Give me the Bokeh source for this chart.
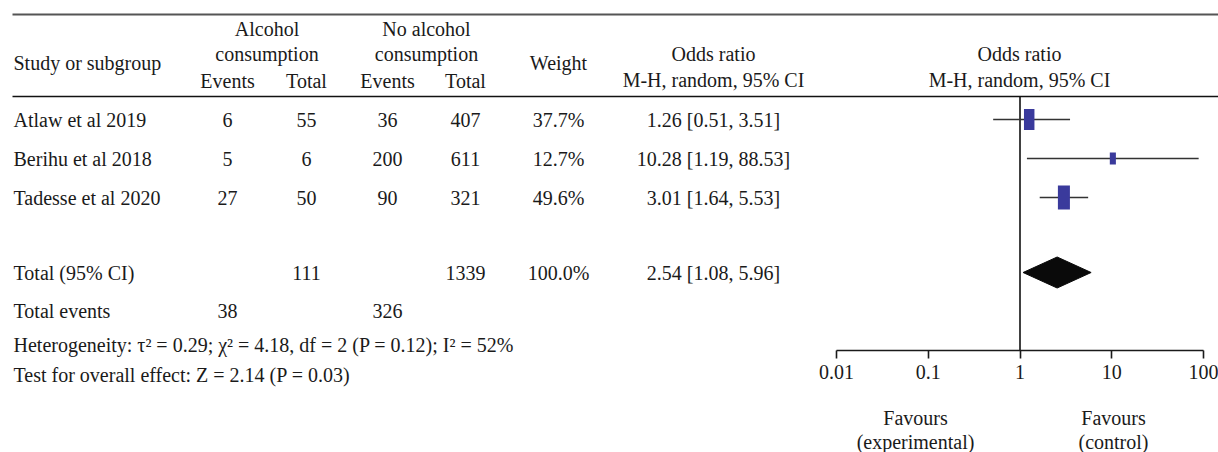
from bokeh.plotting import figure
from bokeh.models import (Range1d, LogScale, LogAxis, FixedTicker, ColumnDataSource)
from bokeh.core.properties import value
from bokeh.embed import file_html
from bokeh.resources import INLINE
import math

# ---------------- data ----------------
studies = ["Atlaw et al 2019", "Berihu et al 2018", "Tadesse et al 2020"]
alc_events = [6, 5, 27]
alc_total = [55, 6, 50]
noalc_events = [36, 200, 90]
noalc_total = [407, 611, 321]
weights = [37.7, 12.7, 49.6]
odds_ratio = [1.26, 10.28, 3.01]
ci_low = [0.51, 1.19, 1.64]
ci_high = [3.51, 88.53, 5.53]

total_label = "Total (95% CI)"
total_alc = 111
total_noalc = 1339
total_weight = 100.0
pooled_or = 2.54
pooled_low = 1.08
pooled_high = 5.96

total_events_label = "Total events"
total_events_alc = 38
total_events_noalc = 326

heterogeneity_text = "Heterogeneity: \u03c4\u00b2 = 0.29; \u03c7\u00b2 = 4.18, df = 2 (P = 0.12); I\u00b2 = 52%"
overall_text = "Test for overall effect: Z = 2.14 (P = 0.03)"

axis_ticks = [0.01, 0.1, 1, 10, 100]
axis_tick_labels = ["0.01", "0.1", "1", "10", "100"]
favours_left = ["Favours", "(experimental)"]
favours_right = ["Favours", "(control)"]

# ---------------- layout (picture pixel coordinates) ----------------
W, H = 1218, 452
FONT = value("Liberation Serif")
FS = "20px"
TXT = "#1a1a1a"

# log mapping: picture x = X1 + DEC * log10(v)
X1, DEC = 1019.5, 91.75
log_start = 10 ** ((0 - X1) / DEC)
log_end = 10 ** ((W - X1) / DEC)

p = figure(width=W, height=H, x_range=Range1d(0, W), y_range=Range1d(H, 0),
           x_axis_type=None, y_axis_type=None, output_backend="svg",
           toolbar_location=None, min_border=0, outline_line_color=None,
           background_fill_color="white", border_fill_color="white")
p.grid.visible = False
p.extra_x_ranges = {"log": Range1d(log_start, log_end)}
p.extra_x_scales = {"log": LogScale()}

# column x positions
X_NAME = 13
X_AE, X_AT, X_NE, X_NT = 227, 306, 387, 465
X_W = 558
X_OR = 713
X_FOREST = 1019
# row y positions
row_y = [119, 158, 197]
Y_TOTAL, Y_TEV, Y_HET, Y_OVR = 272, 310, 344, 374
Y_TOP_RULE, Y_HEAD_RULE, Y_AXIS = 14, 96, 350


def txt(xs, ys, texts, align="center", **kw):
    p.text(x=xs, y=ys, text=texts, text_font=FONT, text_font_size=FS,
           text_color=TXT, text_align=align, text_baseline="middle", **kw)


# rules
p.segment(x0=[12], y0=[Y_TOP_RULE], x1=[W], y1=[Y_TOP_RULE], line_color="#555555", line_width=2.2)
p.segment(x0=[12], y0=[Y_HEAD_RULE], x1=[W], y1=[Y_HEAD_RULE], line_color="#111111", line_width=1.6)

# header
txt([X_NAME], [62], ["Study or subgroup"], align="left")
txt([(X_AE + X_AT) / 2, (X_NE + X_NT) / 2], [28, 28], ["Alcohol", "No alcohol"])
txt([(X_AE + X_AT) / 2, (X_NE + X_NT) / 2], [53, 53], ["consumption", "consumption"])
txt([X_AE, X_AT, X_NE, X_NT], [80] * 4, ["Events", "Total", "Events", "Total"])
txt([X_W], [62], ["Weight"])
txt([X_OR, X_FOREST], [53, 53], ["Odds ratio", "Odds ratio"])
txt([X_OR, X_FOREST], [79, 79], ["M-H, random, 95% CI", "M-H, random, 95% CI"])

# study rows
n = len(studies)
txt([X_NAME] * n, row_y, studies, align="left")
txt([X_AE] * n, row_y, [str(v) for v in alc_events])
txt([X_AT] * n, row_y, [str(v) for v in alc_total])
txt([X_NE] * n, row_y, [str(v) for v in noalc_events])
txt([X_NT] * n, row_y, [str(v) for v in noalc_total])
txt([X_W] * n, row_y, [f"{w:.1f}%" for w in weights])
txt([X_OR] * n, row_y, [f"{o:.2f} [{l:.2f}, {h:.2f}]" for o, l, h in zip(odds_ratio, ci_low, ci_high)])

# totals
txt([X_NAME], [Y_TOTAL], [total_label], align="left")
txt([X_AT, X_NT, X_W, X_OR], [Y_TOTAL] * 4,
    [str(total_alc), str(total_noalc), f"{total_weight:.1f}%",
     f"{pooled_or:.2f} [{pooled_low:.2f}, {pooled_high:.2f}]"])
txt([X_NAME], [Y_TEV], [total_events_label], align="left")
txt([X_AE, X_NE], [Y_TEV] * 2, [str(total_events_alc), str(total_events_noalc)])
txt([X_NAME, X_NAME], [Y_HET, Y_OVR], [heterogeneity_text, overall_text], align="left")

# favours labels
txt([915, 915], [417, 441], favours_left)
txt([1113, 1113], [417, 441], favours_right)

# ---------------- forest part (log scale) ----------------
# null line at OR = 1
p.segment(x0=[1], y0=[Y_HEAD_RULE], x1=[1], y1=[Y_AXIS], x_range_name="log",
          line_color="#111111", line_width=1.6)

src = ColumnDataSource(dict(
    y=row_y, est=odds_ratio, lo=ci_low, hi=ci_high,
    h=[3.41 * math.sqrt(w) for w in weights],
    w=[3.41 * math.sqrt(w) / 2 for w in weights],
))
p.segment(x0="lo", y0="y", x1="hi", y1="y", source=src, x_range_name="log",
          line_color="#333333", line_width=1.6)
p.rect(x="est", y="y", width="w", height="h", width_units="screen", height_units="screen",
       source=src, x_range_name="log", fill_color="#3a3a9c", line_color=None)

# pooled diamond
dh = 15.5
p.patch(x=[pooled_low, pooled_or, pooled_high, pooled_or],
        y=[Y_TOTAL, Y_TOTAL - dh, Y_TOTAL, Y_TOTAL + dh],
        x_range_name="log", fill_color="#0a0a0a", line_color="#0a0a0a", line_width=1)

# axis
ax = LogAxis(x_range_name="log", fixed_location=Y_AXIS, bounds=(axis_ticks[0], axis_ticks[-1]),
             ticker=FixedTicker(ticks=axis_ticks, minor_ticks=[]))
ax.major_label_overrides = {t: lab for t, lab in zip(axis_ticks, axis_tick_labels)}
ax.axis_line_color = "#1a1a1a"
ax.axis_line_width = 1.6
ax.major_tick_line_color = "#1a1a1a"
ax.major_tick_line_width = 1.6
ax.major_tick_in = 0
ax.major_tick_out = 8
ax.minor_tick_line_color = None
ax.major_label_text_font = "Liberation Serif"
ax.major_label_text_font_size = FS
ax.major_label_text_color = TXT
ax.major_label_standoff = 6
p.add_layout(ax, "below")

open("out.html", "w").write(file_html(p, INLINE))
